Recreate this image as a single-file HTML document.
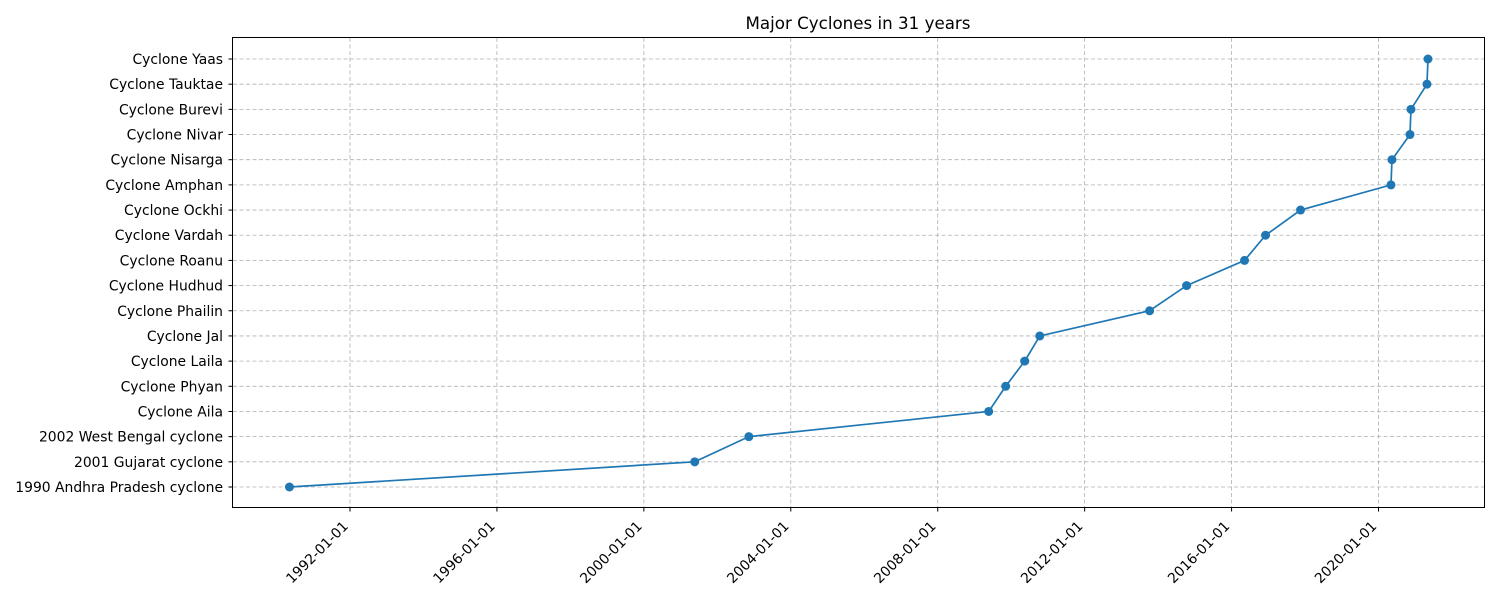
<!DOCTYPE html>
<html><head><meta charset="utf-8"><style>
body{margin:0;background:#fff;font-family:"Liberation Sans","DejaVu Sans",sans-serif;}
svg text{font-family:"DejaVu Sans","Liberation Sans",sans-serif;font-size:13.9px;fill:#000;}
</style></head><body>
<svg id="chart" width="1500" height="600" xmlns="http://www.w3.org/2000/svg">
<text x="858" y="29" text-anchor="middle" style="font-size:16.7px">Major Cyclones in 31 years</text>
<g id="grid"></g><g id="ticks"></g><g id="series"></g>
<rect x="232.5" y="37.5" width="1252" height="470" fill="none" stroke="#000" stroke-width="1"/>
</svg>
<script>
const categories=["1990 Andhra Pradesh cyclone","2001 Gujarat cyclone","2002 West Bengal cyclone","Cyclone Aila","Cyclone Phyan","Cyclone Laila","Cyclone Jal","Cyclone Phailin","Cyclone Hudhud","Cyclone Roanu","Cyclone Vardah","Cyclone Ockhi","Cyclone Amphan","Cyclone Nisarga","Cyclone Nivar","Cyclone Burevi","Cyclone Tauktae","Cyclone Yaas"];
const dates=["1990-05-09","2001-05-21","2002-11-10","2009-05-22","2009-11-07","2010-05-15","2010-10-12","2013-10-08","2014-10-11","2016-05-09","2016-12-04","2017-11-17","2020-05-04","2020-05-14","2020-11-09","2020-11-19","2021-04-27","2021-05-07"];
const tickLabels=["1992-01-01","1996-01-01","2000-01-01","2004-01-01","2008-01-01","2012-01-01","2016-01-01","2020-01-01"];
const NS="http://www.w3.org/2000/svg";
const t0=Date.UTC(1992,0,1),t1=Date.UTC(2020,0,1);
function xs(d){const t=Date.parse(d+"T00:00:00Z");return 350+(t-t0)/(t1-t0)*(1378.5-350);}
function ys(i){return 487-i*(428/17);}
function mk(tag,attrs,parent){const e=document.createElementNS(NS,tag);for(const k in attrs)e.setAttribute(k,attrs[k]);parent.appendChild(e);return e;}
const grid=document.getElementById('grid'),ticks=document.getElementById('ticks'),ser=document.getElementById('series');
tickLabels.forEach(l=>{const x=xs(l);
 const g=mk('line',{x1:x,x2:x,y1:38,y2:507,stroke:'#b0b0b0','stroke-width':0.8,'stroke-dasharray':'4,2.5'},grid);
 
 
 const tk=mk('line',{x1:x,x2:x,y1:508,y2:511.5,stroke:'#000'},ticks);
 
 
 const t=mk('text',{x:x-1,y:527,'text-anchor':'end',transform:`rotate(-45 ${x-1} 527)`},ticks);t.textContent=l;
 
 
});
categories.forEach((c,i)=>{const y=ys(i);
 const g=mk('line',{x1:233,x2:1484,y1:y,y2:y,stroke:'#b0b0b0','stroke-width':0.8,'stroke-dasharray':'4,2.5'},grid);
 
 
 const tk=mk('line',{x1:228.5,x2:232,y1:y,y2:y,stroke:'#000'},ticks);
 
 
 const t=mk('text',{x:223,y:y+5,'text-anchor':'end'},ticks);t.textContent=c;
 
 
});
const pts=dates.map((d,i)=>xs(d)+','+ys(i)).join(' ');
const pl=mk('polyline',{points:pts,fill:'none',stroke:'#1f77b4','stroke-width':1.7},ser);


dates.forEach((d,i)=>{const c=mk('circle',{cx:xs(d),cy:ys(i),r:4.5,fill:'#1f77b4'},ser);
 
 
});
</script>
</body></html>
